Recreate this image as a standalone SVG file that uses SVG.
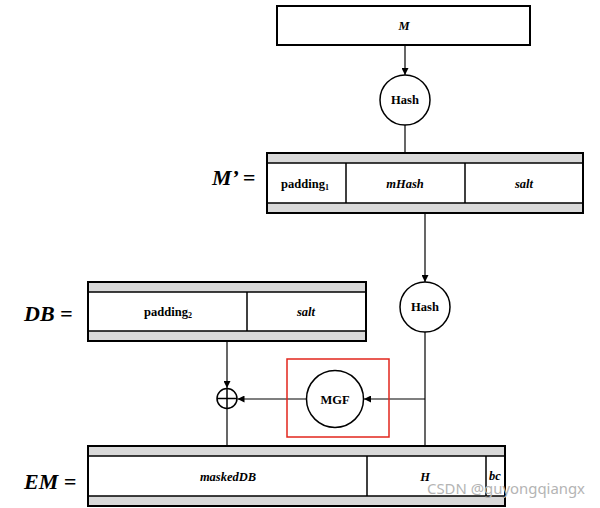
<svg xmlns="http://www.w3.org/2000/svg" width="600" height="508" viewBox="0 0 600 508">
<defs>
<marker id="arr" viewBox="0 0 8 8" refX="8" refY="4" markerWidth="7" markerHeight="7" markerUnits="userSpaceOnUse" orient="auto">
<path d="M0,0 L8,4 L0,8 z" fill="#000"/>
</marker>
<style>
.box{fill:#fff;stroke:#000;stroke-width:2}
.bar{fill:#d9d9d9;stroke:#000;stroke-width:1.5}
.div{stroke:#000;stroke-width:1.5}
.circ{fill:#fff;stroke:#000;stroke-width:1.5}
.t{font-family:"Liberation Serif","Times New Roman",serif;font-weight:bold;font-size:12.5px;text-anchor:middle;fill:#000}
.i{font-style:italic}
.big{font-family:"Liberation Serif","Times New Roman",serif;font-weight:bold;font-style:italic;font-size:22px;fill:#000}
.ln{stroke:#000;stroke-width:1.2;fill:none}
</style>
</defs>
<rect width="600" height="508" fill="#fff"/>

<g id="connectors">
<line class="ln" x1="405" y1="45" x2="405" y2="75" marker-end="url(#arr)"/>
<line class="ln" x1="405" y1="125" x2="405" y2="163" marker-end="url(#arr)"/>
<line class="ln" x1="425" y1="213" x2="425" y2="282" marker-end="url(#arr)"/>
<line class="ln" x1="425" y1="332" x2="425" y2="456" marker-end="url(#arr)"/>
<line class="ln" x1="425" y1="399" x2="364" y2="399" marker-end="url(#arr)"/>
<line class="ln" x1="306.5" y1="399" x2="237.5" y2="399" marker-end="url(#arr)"/>
<line class="ln" x1="227" y1="341" x2="227" y2="388" marker-end="url(#arr)"/>
<line class="ln" x1="227" y1="409" x2="227" y2="456" marker-end="url(#arr)"/>
</g>

<g id="node-M">
<rect class="box" x="277" y="6" width="253" height="39"/>
<text class="t i" x="404" y="30">M</text>
</g>

<g id="node-hash1">
<circle class="circ" cx="405" cy="100" r="25"/>
<text class="t" x="405" y="104">Hash</text>
</g>

<g id="node-Mprime">
<text class="big" x="212" y="185">M’ =</text>
<rect class="box" x="267" y="153" width="316" height="60"/>
<rect class="bar" x="267" y="153" width="316" height="10"/>
<rect class="bar" x="267" y="203" width="316" height="10"/>
<line class="div" x1="346" y1="163" x2="346" y2="203"/>
<line class="div" x1="465" y1="163" x2="465" y2="203"/>
<rect x="267" y="153" width="316" height="60" fill="none" stroke="#000" stroke-width="2"/>
<text class="t" x="305" y="188">padding<tspan font-size="8" dy="2">1</tspan></text>
<text class="t i" x="405" y="188">mHash</text>
<text class="t i" x="524" y="188">salt</text>
</g>

<g id="node-hash2">
<circle class="circ" cx="425" cy="307" r="25"/>
<text class="t" x="425" y="311">Hash</text>
</g>

<g id="node-DB">
<text class="big" x="24" y="321">DB =</text>
<rect class="box" x="88" y="282" width="278" height="59"/>
<rect class="bar" x="88" y="282" width="278" height="10"/>
<rect class="bar" x="88" y="331" width="278" height="10"/>
<line class="div" x1="247" y1="292" x2="247" y2="331"/>
<rect x="88" y="282" width="278" height="59" fill="none" stroke="#000" stroke-width="2"/>
<text class="t" x="168" y="316">padding<tspan font-size="8" dy="2">2</tspan></text>
<text class="t i" x="306" y="316">salt</text>
</g>

<g id="node-xor">
<circle class="circ" cx="227" cy="398.5" r="10"/>
<line class="div" x1="217" y1="398.5" x2="237" y2="398.5"/>
<line class="div" x1="227" y1="388.5" x2="227" y2="408.5"/>
</g>

<g id="node-MGF">
<rect x="287" y="359" width="102" height="78" fill="none" stroke="#e2261c" stroke-width="1.5"/>
<circle class="circ" cx="335" cy="399" r="28.5"/>
<text class="t" x="335" y="404" font-size="13.5">MGF</text>
</g>

<g id="node-EM">
<text class="big" x="24" y="489">EM =</text>
<rect class="box" x="88" y="446" width="417" height="60"/>
<rect class="bar" x="88" y="446" width="417" height="10"/>
<rect class="bar" x="88" y="496" width="417" height="10"/>
<line class="div" x1="367" y1="456" x2="367" y2="496"/>
<line class="div" x1="486" y1="456" x2="486" y2="496"/>
<rect x="88" y="446" width="417" height="60" fill="none" stroke="#000" stroke-width="2"/>
<text class="t i" x="228" y="481">maskedDB</text>
<text class="t i" x="425" y="481">H</text>
<text class="t i" x="495" y="480">bc</text>
</g>

<text x="427" y="494" font-family="'Noto Sans','DejaVu Sans',sans-serif" font-size="14" textLength="158" lengthAdjust="spacingAndGlyphs" fill="#b4b4b4">CSDN @guyongqiangx</text>
</svg>
